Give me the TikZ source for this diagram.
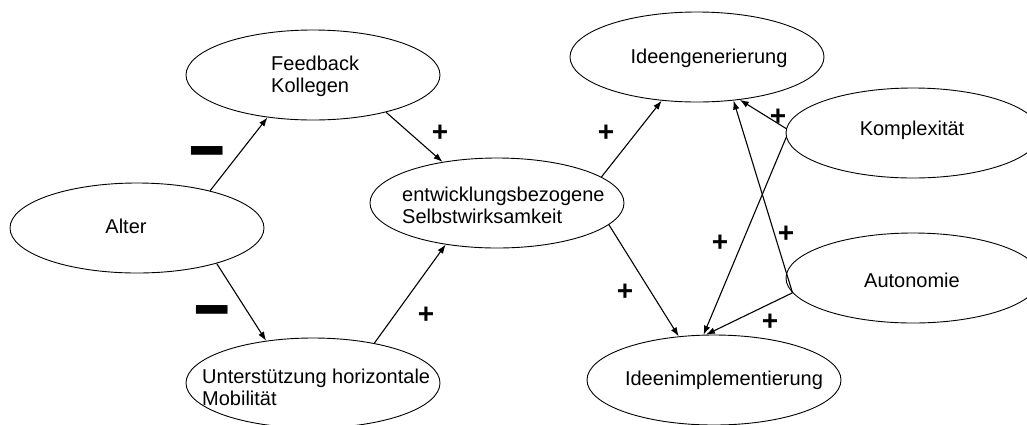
\documentclass[tikz,border=0pt]{standalone}
\usepackage{graphicx}
\usepackage{fontspec}
\setmainfont{Liberation Sans}
\usetikzlibrary{shapes.geometric,arrows.meta}
\begin{document}
\begin{tikzpicture}[x=1pt,y=-1pt,
  factor/.style={ellipse,draw,line width=0.9pt,minimum width=254pt,minimum height=90pt,inner sep=0pt},
  caption/.style={inner sep=0pt,font=\fontsize{20}{22}\selectfont,align=left},
  effect/.style={line width=1.1pt,-{Latex[length=9pt,width=6.5pt]}},
  plussign/.style={inner sep=0pt,font=\fontsize{28}{28}\selectfont\bfseries},
  minussign/.style={inner sep=0pt,font=\fontsize{44}{44}\selectfont\bfseries}]
\useasboundingbox (0,0) rectangle (1027,424);
\clip (0,0) rectangle (1027,424);

% constructs
\node[factor] (alter) at (137,228) {};
\node[factor] (fb)    at (313,75)  {};
\node[factor] (unt)   at (313,383) {};
\node[factor] (sw)    at (497,203) {};
\node[factor] (ig)    at (697,57)  {};
\node[factor] (ii)    at (714,380) {};
\node[factor] (komp)  at (913,133) {};
\node[factor] (auto)  at (913,278) {};

% captions
\node[caption] (alter-t) at (126,226) {Alter};
\node[caption,anchor=west] (fb-t) at (271,76) {Feedback\\Kollegen};
\node[caption,anchor=west] (unt-t) at (202,387) {Unterstützung horizontale\\Mobilität};
\node[caption,anchor=west] (sw-t) at (402,205) {entwicklungsbezogene\\Selbstwirksamkeit};
\node[caption] (ig-t) at (709,58) {Ideengenerierung};
\node[caption] (ii-t) at (724,380) {Ideenimplementierung};
\node[caption] (komp-t) at (912,130) {Komplexität};
\node[caption] (auto-t) at (912,280) {Autonomie};

% effects
\draw[effect] (alter.27)   -- (fb.-137);
\draw[effect] (alter.-24)  -- (unt.138);
\draw[effect] (fb.-27)     -- (sw.143);
\draw[effect] (unt.33.5)   -- (sw.-141.6);
\draw[effect] (sw.14.8)    -- (ig.-129.4);
\draw[effect] (sw.-11.3)   -- (ii.129.4);
\draw[effect] (komp.178.7) -- (ig.-45);
\draw[effect] (komp.-178.2) -- (ii.103.4);
\draw[effect] (auto.-173.5) -- (ig.-50.6);
\draw[effect] (auto.-173.5) -- (ii.100.8);

% signs
\node[minussign] (n1) at (207,161) {\scalebox{1.45}[2]{–}};
\node[minussign] (n2) at (212,320) {\scalebox{1.45}[2]{–}};
\node[plussign] (p1) at (440,133) {+};
\node[plussign] (p2) at (426,315) {+};
\node[plussign] (p3) at (606,133) {+};
\node[plussign] (p4) at (625,292) {+};
\node[plussign] (p5) at (778,117) {+};
\node[plussign] (p6) at (720,243) {+};
\node[plussign] (p7) at (786,234) {+};
\node[plussign] (p8) at (770,322) {+};
\end{tikzpicture}
\end{document}
